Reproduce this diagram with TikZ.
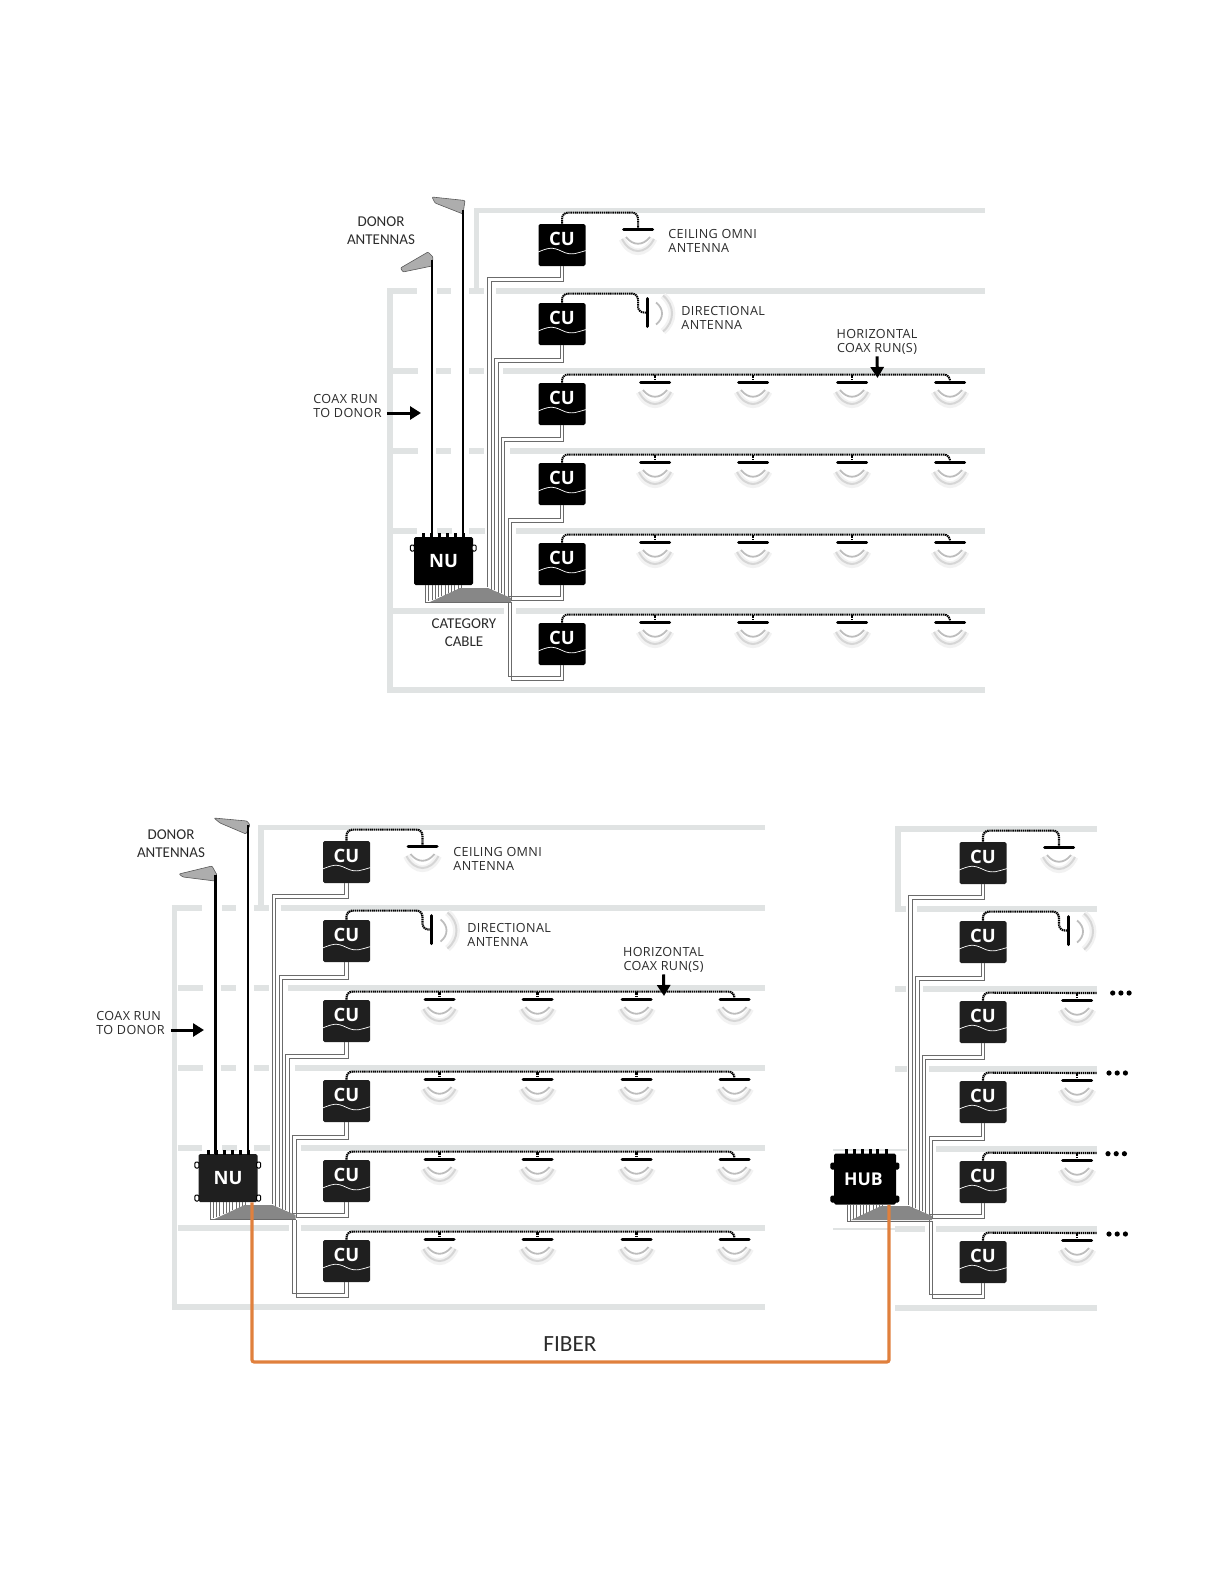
\documentclass[tikz,border=0pt]{standalone}
\usepackage{fontspec}
\usetikzlibrary{arrows.meta,calc}
\newfontfamily\speclabel[LetterSpace=3]{Open Sans}
\newfontfamily\unitfam{Open Sans}
\newfontfamily\calloutfam{Carlito}
\newcommand{\lblfont}{\speclabel\fontsize{6.3}{7}\selectfont}
\newcommand{\calloutfont}{\calloutfam\fontsize{7.5}{9}\selectfont}
\newcommand{\cufont}{\unitfam\bfseries\fontsize{9.2}{10}\selectfont}
\definecolor{FloorClr}{rgb}{0.88,0.89,0.89}
\definecolor{CableClr}{rgb}{0.42,0.42,0.42}
\definecolor{BundleClr}{rgb}{0.53,0.53,0.53}
\definecolor{PanelClr}{rgb}{0.68,0.68,0.68}
\definecolor{FiberClr}{rgb}{0.88,0.50,0.24}
\definecolor{LabelClr}{rgb}{0.17,0.17,0.17}
\tikzset{
  floorline/.style={draw=FloorClr,line width=2.7pt},
  thinfloor/.style={draw=FloorClr,line width=1.2pt},
  feeder/.style={draw=CableClr,line width=.5pt},
  coaxrun/.style={draw=black,line width=1pt,dash pattern=on .7pt off .35pt,rounded corners=3pt},
  antbar/.style={draw=black,line width=1.5pt,line cap=round},
  wavehalo/.style={draw=gray!10,line width=3.4pt},
  waveouter/.style={draw=gray!32,line width=1pt},
  waveinner/.style={draw=gray!52,line width=.9pt},
  pole/.style={draw=black,line width=1pt},
  panel/.style={fill=PanelClr,draw=gray!70!black,line width=.3pt,rounded corners=.5pt},
  cubox/.style={fill=black,rounded corners=.8pt,minimum width=23.5pt,minimum height=21pt,inner sep=0pt,text=white,font=\cufont,text height=0pt,text depth=0pt},
  unitbox/.style={fill=black,rounded corners=.8pt,inner sep=0pt,text=white,font=\cufont},
  nub/.style={fill=black},
  unitear/.style={draw=black,fill=white,line width=.5pt,rounded corners=.6pt},
  cuwave/.style={draw=white,line width=.35pt},
  speclabel/.style={font=\lblfont,text=LabelClr,inner sep=0pt,align=left},
  callout/.style={font=\calloutfont,text=LabelClr,inner sep=0pt,align=center},
  thickarrow/.style={draw=black,line width=1.5pt,-{Triangle[length=5.5pt,width=6.5pt]}},
  fiber/.style={draw=FiberClr,line width=1.6pt,rounded corners=1pt},
  ceilant/.pic={
    \draw[wavehalo] (-16,10) .. controls (-8,27) and (8,27) .. (16,10);
    \draw[waveouter] (-16,10) .. controls (-8,26) and (8,26) .. (16,10);
    \draw[waveinner] (-12,8) .. controls (-5,17) and (5,17) .. (12,8);
    \draw[antbar] (-14.5,0) -- (14.5,0);
  },
  dirant/.pic={
    \draw[wavehalo] (16,-17) .. controls (28,-7) and (28,9) .. (16,19);
    \draw[waveouter] (16,-17) .. controls (28,-7) and (28,9) .. (16,19);
    \draw[waveinner] (9,-10) .. controls (17,-4) and (17,6) .. (9,12);
    \draw[antbar] (0,-14) -- (0,14);
  }
}

\newcommand{\OfficeFloors}[1]{
  \foreach \xa/\xb/\ya in {474/#1/210.5,
    387/417/291,437/451/291,469/484/291,496/#1/291,
    393/418/371,436/451/371,469/484/371,503/#1/371,
    393/418/451,436/451/451,469/484/451,510/#1/451,
    393/417/531,437/452/531,469/485/531,516/#1/531,
    393/504/611,516/#1/611,
    387/#1/690}
    \draw[floorline] (\xa,\ya) -- (\xb,\ya);
  \draw[floorline] (476.5,208) -- (476.5,292);
  \draw[floorline] (390,288) -- (390,693);
}

\newcommand{\CuStack}{
  \foreach \i/\cy in {1/245,2/324,3/404,4/484,5/564,6/644}{
    \node[cubox] (cu\i) at (562,\cy) {CU};
    \draw[cuwave] ([yshift=-3.5pt]cu\i.west) .. controls +(5pt,2pt) and +(-5pt,2.5pt) .. ([yshift=-3.2pt]cu\i.center) .. controls +(5pt,-2.5pt) and +(-4pt,-1pt) .. ([yshift=-2.8pt]cu\i.east);
  }
  \foreach \i/\dy/\rx/\ry in {1/13/489.5/589,2/15/496.5/592,3/14/503/595,4/15/510/598,5/13/510/598,6/13/510/601}{
    \coordinate (rise\i) at (\rx,\ry);
    \foreach \s in {-1.65,1.65}
      \draw[feeder] ([xshift={\s*.5pt}]cu\i.south) -- ++(0,{\dy+\s}) -| ([shift={(\s,\s)}]rise\i);
  }
}

\newcommand{\UpperAntennas}{
  \coordinate (ant1) at (638,229);
  \coordinate (ant2) at (647,312.5);
  \pic at (ant1) {ceilant};
  \pic at (ant2) {dirant};
  \draw[coaxrun] (cu1.north) -- ++(0,-11) -| (ant1);
  \draw[coaxrun] (cu2.north) -- ++(0,-9) -| ([xshift=-4.5pt]ant2) -- (ant2);
}

\newcommand{\FullRows}{
  \foreach \r/\ya in {3/382,4/462,5/542,6/622}{
    \foreach \j/\xa in {1/655,2/753,3/852,4/950}{
      \coordinate (ant\r\j) at (\xa,\ya);
      \pic at (ant\r\j) {ceilant};
    }
    \foreach \j in {1,2,3}
      \draw[coaxrun] (ant\r\j) -- ++(0,-7);
    \draw[coaxrun] (cu\r.north) -- ++(0,-8) -| (ant\r4);
  }
}

\newcommand{\BundleFrom}[1]{
  \foreach \k in {0,...,11}{
    \draw[feeder] ([xshift={(\k*3.25-18)*.5pt}]#1.south) -- ++(0,{17-\k*1.3});
  }
  \fill[BundleClr] (430,602) -- (460,588) -- (488,588) -- (511,598) -- (511,602) -- cycle;
  \draw[feeder] ([xshift=-9pt]#1.south) -- ++(0,17) -- ++(86,0);
}

\newcommand{\UnitNubs}[2]{
  \foreach \dx in {#2}
    \fill[nub] ([xshift=\dx pt]#1.north) ++(-1.5,1) rectangle ++(3,-5);
}

\begin{document}
\begin{tikzpicture}[x=.5pt,y=-.5pt]
\useasboundingbox (0,0) rectangle (1224,1584);

\OfficeFloors{985}

\coordinate (panelA) at (463,210);
\coordinate (panelB) at (432,260);
\fill[panel] (432,197) -- (465,200.5) -- (463,214) -- (435,203) -- cycle;
\fill[panel] (400.5,268) -- (428,252) -- (433,257) -- (432,266) -- (403,272) -- cycle;

\CuStack
\UpperAntennas
\FullRows
\node[unitbox,minimum width=29.5pt,minimum height=24pt] (nu) at (443.5,561) {NU};
\BundleFrom{nu}
\UnitNubs{nu}{-10,-6,-2,2,6,10}
\draw[unitear] ([xshift=-.5pt,yshift=6.5pt]nu.west) ++(-2.2,3) rectangle ++(4,-6);
\draw[unitear] ([xshift=.5pt,yshift=6.5pt]nu.east) ++(-2.2,3) rectangle ++(4,-6);

\draw[pole] (panelA) -- (panelA |- nu.north);
\draw[pole] (panelB) -- (panelB |- nu.north);

\node[callout] (donorlbl) at (381,231) {DONOR\\ANTENNAS};
\node[speclabel,anchor=west] (coaxlbl) at (313,406) {COAX RUN\\TO DONOR};
\node[speclabel,anchor=west] (ceillbl) at (668,241) {CEILING OMNI\\ANTENNA};
\node[speclabel,anchor=west] (dirlbl) at (681,317.5) {DIRECTIONAL\\ANTENNA};
\node[speclabel,align=center] (horizlbl) at (877,341.5) {HORIZONTAL\\COAX RUN(S)};
\node[callout] (catlbl) at (464,633) {CATEGORY\\CABLE};

\coordinate (coaxtip) at (421,413);
\coordinate (horiztip) at (877.5,378);
\draw[thickarrow] ([shift={(2.5pt,-3.5pt)}]coaxlbl.east) -- (coaxtip);
\draw[thickarrow] ([yshift=-1pt]horizlbl.south) -- (horiztip);

\begin{scope}[shift={(-215.5,617)},name prefix=lower-,cubox/.append style={fill=black!88},unitbox/.append style={fill=black!88},coaxrun/.append style={line width=1.1pt}]
\OfficeFloors{980.5}
\CuStack
\UpperAntennas
\FullRows
\node[unitbox,minimum width=29.5pt,minimum height=24pt] (nu) at (443.5,561) {NU};
\BundleFrom{nu}
\UnitNubs{nu}{-10,-6,-2,2,6,10}
\draw[unitear] ([xshift=-.5pt,yshift=6.5pt]nu.west) ++(-2.2,3) rectangle ++(4,-6);
\draw[unitear] ([xshift=.5pt,yshift=6.5pt]nu.east) ++(-2.2,3) rectangle ++(4,-6);
\draw[unitear] ([xshift=-.5pt,yshift=-10pt]nu.west) ++(-2.2,3) rectangle ++(4,-6);
\draw[unitear] ([xshift=.5pt,yshift=-10pt]nu.east) ++(-2.2,3) rectangle ++(4,-6);
\end{scope}

\coordinate (panelC) at (248,825);
\coordinate (panelD) at (215.3,875);
\fill[panel] (214,818) -- (247,821) -- (250,825) -- (246,834) -- (220,823) -- cycle;
\fill[panel] (179,874) -- (212,866) -- (217,875) -- (215,881) -- (183,877) -- cycle;
\draw[pole] (panelC) -- (panelC |- lower-nu.north);
\draw[pole,line width=1.5pt] (panelD) -- (panelD |- lower-nu.north);

\node[callout] (lowdonorlbl) at (171,843.5) {DONOR\\ANTENNAS};
\node[speclabel,anchor=west] (lowcoaxlbl) at (96,1023) {COAX RUN\\TO DONOR};
\node[speclabel,anchor=west] (lowceillbl) at (453,858.5) {CEILING OMNI\\ANTENNA};
\node[speclabel,anchor=west] (lowdirlbl) at (467,934.5) {DIRECTIONAL\\ANTENNA};
\node[speclabel,align=center] (lowhorizlbl) at (663.5,959.5) {HORIZONTAL\\COAX RUN(S)};

\coordinate (lowcoaxtip) at (204,1030);
\coordinate (lowhoriztip) at (664,996);
\draw[thickarrow] ([shift={(3pt,-3.5pt)}]lowcoaxlbl.east) -- (lowcoaxtip);
\draw[thickarrow] ([yshift=-1pt]lowhorizlbl.south) -- (lowhoriztip);

\foreach \xa/\xb/\ya in {895/1097/829,895/906/909,917/1097/909,895/906/989,923/1097/989,895/907/1069,929/1097/1069,936/1097/1149,895/925/1229,936/1097/1229,895/1097/1308}
  \draw[floorline] (\xa,\ya) -- (\xb,\ya);
\draw[floorline] (898,826) -- (898,911);
\draw[thinfloor] (833,1150) -- (907,1150);
\draw[thinfloor] (833,1229) -- (895,1229);

\begin{scope}[shift={(421,618)},name prefix=right-,cubox/.append style={fill=black!88},coaxrun/.append style={line width=1.1pt}]
\CuStack
\UpperAntennas
\foreach \r/\ya in {3/382,4/462,5/542,6/622}{
  \coordinate (ant\r) at (656,\ya);
  \coordinate (runend\r) at (676,\ya-7);
  \pic at (ant\r) {ceilant};
  \draw[coaxrun] (ant\r) -- ++(0,-7);
  \draw[coaxrun] (cu\r.north) -- ++(0,-8) -- (runend\r);
}
\node[unitbox,minimum width=31pt,minimum height=25.5pt,font=\unitfam\bfseries\fontsize{8.8}{10}\selectfont] (hub) at (444,561) {\hspace{-1.5pt}HUB};
\BundleFrom{hub}
\UnitNubs{hub}{-9.5,-5.5,-1.5,2.5,6,10.5}
\foreach \ey in {6.5,-10}{
  \draw[unitear,fill=black] ([xshift=-.3pt,yshift=\ey pt]hub.west) ++(-2.2,3) rectangle ++(4,-6);
  \draw[unitear,fill=black] ([xshift=.3pt,yshift=\ey pt]hub.east) ++(-2.2,3) rectangle ++(4,-6);
}
\end{scope}

\foreach \ya/\xa in {993/1112.7,1073/1109,1153.7/1108,1234/1109}
  \foreach \k in {0,1,2}
    \fill[black] ({\xa+\k*8.2},\ya) circle (1.3pt);

\draw[fiber] ([xshift=12pt]lower-nu.south) -- ++(0,159.5) -| ([xshift=12pt]right-hub.south);
\node[callout,font=\calloutfam\fontsize{11.6}{13}\selectfont] (fiberlbl) at (570,1344) {FIBER};

\end{tikzpicture}
\end{document}
